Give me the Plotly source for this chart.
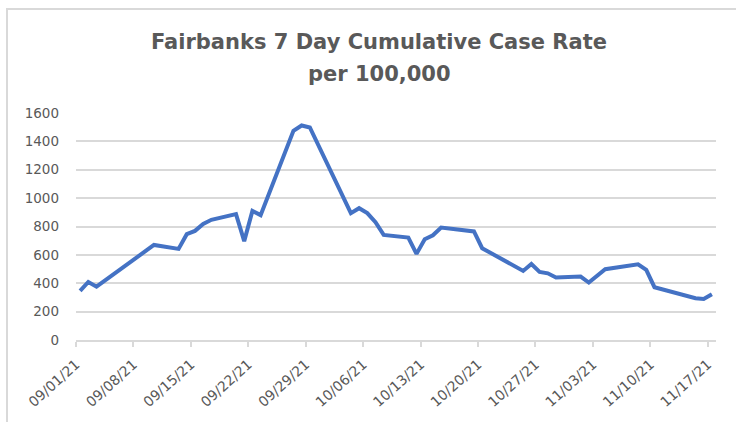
import plotly.graph_objects as go
import pandas as pd

dates = ["2021-09-01", "2021-09-02", "2021-09-03", "2021-09-10", "2021-09-13",
         "2021-09-14", "2021-09-15", "2021-09-16", "2021-09-17", "2021-09-20",
         "2021-09-21", "2021-09-22", "2021-09-23", "2021-09-27", "2021-09-28",
         "2021-09-29", "2021-10-04", "2021-10-05", "2021-10-06", "2021-10-07",
         "2021-10-08", "2021-10-11", "2021-10-12", "2021-10-13", "2021-10-14",
         "2021-10-15", "2021-10-19", "2021-10-20", "2021-10-25", "2021-10-26",
         "2021-10-27", "2021-10-28", "2021-10-29", "2021-11-01", "2021-11-02",
         "2021-11-04", "2021-11-08", "2021-11-09", "2021-11-10", "2021-11-15",
         "2021-11-16", "2021-11-17"]
rates = [346, 409, 376, 670, 642,
         746, 769, 818, 847, 887,
         697, 910, 880, 1475, 1512,
         1498, 894, 929, 894, 830,
         741, 722, 607, 710, 738,
         793, 765, 647, 487, 536,
         480, 470, 440, 447, 405,
         499, 534, 494, 372, 294,
         289, 322]
tick_dates = ["2021-09-01", "2021-09-08", "2021-09-15", "2021-09-22", "2021-09-29",
              "2021-10-06", "2021-10-13", "2021-10-20", "2021-10-27", "2021-11-03",
              "2021-11-10", "2021-11-17"]
tick_labels = ["09/01/21", "09/08/21", "09/15/21", "09/22/21", "09/29/21",
               "10/06/21", "10/13/21", "10/20/21", "10/27/21", "11/03/21",
               "11/10/21", "11/17/21"]
title_line1 = "Fairbanks 7 Day Cumulative Case Rate"
title_line2 = "per 100,000"

# points sit in the middle of each day slot (Excel date axis)
x_pts = pd.to_datetime(dates) + pd.Timedelta(hours=12)

W, H = 736, 422
L, R, T, B = 76, 20, 113, 82
PW, PH = W - L - R, H - T - B

GRID = "#d9d9d9"
TXT = "#595959"
FONT = "DejaVu Sans"


def px_to_paper_y(py):
    return (H - B - py) / PH


def px_to_paper_x(px):
    return (px - L) / PW


fig = go.Figure()
fig.add_trace(go.Scatter(
    x=x_pts, y=rates, mode="lines",
    line=dict(color="#4472C4", width=4, shape="linear"),
    hoverinfo="x+y", showlegend=False))

fig.update_layout(
    width=W, height=H,
    margin=dict(l=L, r=R, t=T, b=B),
    paper_bgcolor="white", plot_bgcolor="white",
    font=dict(family=FONT, color=TXT, size=14),
    xaxis=dict(
        type="date",
        range=["2021-09-01", "2021-11-18"],
        tickmode="array", tickvals=tick_dates, ticktext=tick_labels,
        tickangle=-42, ticks="outside", ticklen=5, tickcolor=GRID, tickwidth=1.5,
        ticklabelstandoff=4,
        showline=True, linecolor=GRID, linewidth=1.5,
        showgrid=False, zeroline=False, automargin=False,
        tickfont=dict(family=FONT, size=14, color=TXT),
    ),
    yaxis=dict(
        range=[0, 1600], dtick=200, tick0=0,
        showgrid=True, gridcolor=GRID, gridwidth=1.5,
        zeroline=False, showline=False, ticks="",
        ticklabelstandoff=16, automargin=False,
        tickfont=dict(family=FONT, size=13.5, color=TXT),
    ),
    annotations=[
        dict(text=title_line1, xref="paper", yref="paper",
             x=px_to_paper_x(379), y=px_to_paper_y(42), xanchor="center",
             yanchor="middle", showarrow=False,
             font=dict(family=FONT, size=21, color=TXT, weight="bold")),
        dict(text=title_line2, xref="paper", yref="paper",
             x=px_to_paper_x(379), y=px_to_paper_y(74), xanchor="center",
             yanchor="middle", showarrow=False,
             font=dict(family=FONT, size=21, color=TXT, weight="bold")),
    ],
    shapes=[dict(type="rect", xref="paper", yref="paper",
                 x0=px_to_paper_x(7), x1=px_to_paper_x(W + 20),
                 y0=px_to_paper_y(H + 20), y1=px_to_paper_y(9),
                 line=dict(color=GRID, width=2), fillcolor="rgba(0,0,0,0)",
                 layer="below")],
)

fig.write_html("out.html",
               config={"displayModeBar": False},
               post_script="document.body.style.margin='0';"
                           "document.body.style.overflow='hidden';")
